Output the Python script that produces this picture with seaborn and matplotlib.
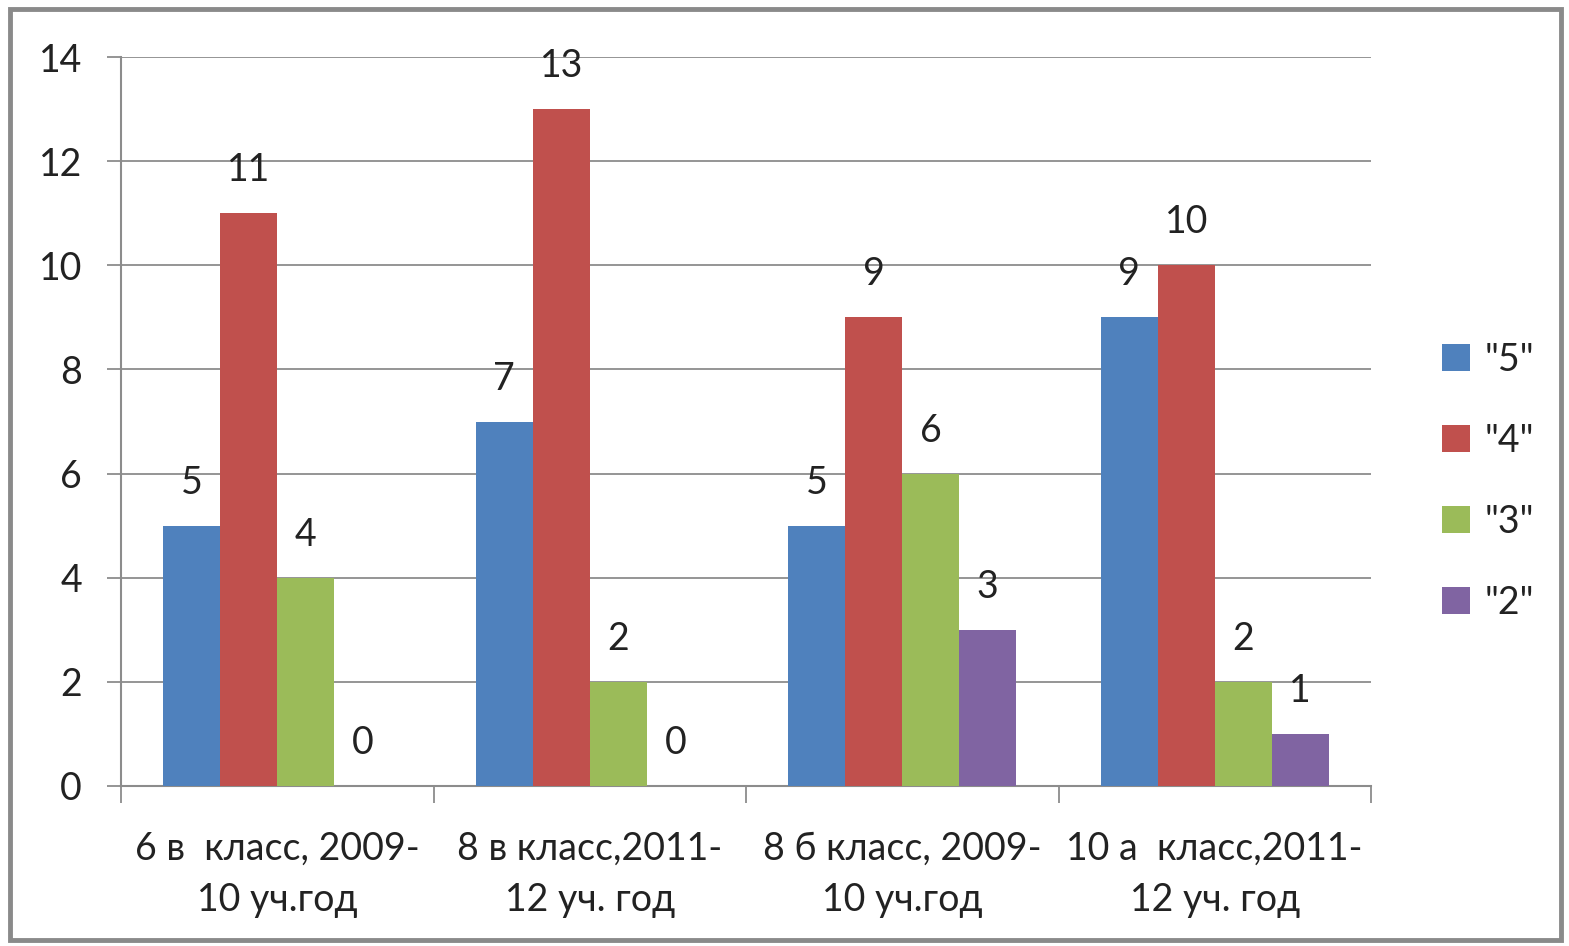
import matplotlib
matplotlib.use("Agg")
import matplotlib.pyplot as plt
import seaborn as sns
import pandas as pd
import numpy as np
from matplotlib.patches import Rectangle

categories = ["6 в  класс, 2009-\n10 уч.год", "8 в класс,2011-\n12 уч. год",
              "8 б класс, 2009-\n10 уч.год", "10 а  класс,2011-\n12 уч. год"]
series = ['"5"', '"4"', '"3"', '"2"']
values_5 = [5, 7, 5, 9]
values_4 = [11, 13, 9, 10]
values_3 = [4, 2, 6, 2]
values_2 = [0, 0, 3, 1]
colors = ["#4F81BD", "#C0504D", "#9BBB59", "#8064A2"]

rows = []
for s, vals in zip(series, [values_5, values_4, values_3, values_2]):
    for c, v in zip(categories, vals):
        rows.append({"cat": c, "series": s, "value": v})
df = pd.DataFrame(rows)

sns.set_style("white")
plt.rcParams['font.family'] = ['Lato', 'DejaVu Sans']
FS = 27

fig = plt.figure(figsize=(15.69, 9.46), dpi=100)
ax = fig.add_axes([121/1569, 1-786/946, 1250/1569, (786-57)/946])

sns.barplot(data=df, x="cat", y="value", hue="series", order=categories,
            hue_order=series, palette=colors, width=0.73, saturation=1,
            edgecolor="none", linewidth=0, ax=ax, zorder=3)

for cont in ax.containers:
    ax.bar_label(cont, labels=[f"{int(v)}" for v in cont.datavalues],
                 padding=18, fontsize=FS, color="#222222")

ax.set_ylim(0, 14)
ax.set_xlim(-0.5, 3.5)
ax.set_yticks(np.arange(0, 15, 2))
ax.yaxis.grid(True, color="#8c8c8c", linewidth=1.3, zorder=0)
ax.set_axisbelow(True)
ax.set_xlabel("")
ax.set_ylabel("")

for side in ["top", "right"]:
    ax.spines[side].set_visible(False)
for side in ["left", "bottom"]:
    ax.spines[side].set_color("#8c8c8c")
    ax.spines[side].set_linewidth(1.5)

ax.tick_params(axis="y", which="major", left=True, length=10, width=1.3,
               color="#8c8c8c", pad=18, labelsize=FS, labelcolor="#222222")
ax.tick_params(axis="x", which="major", bottom=False, length=0, pad=32,
               labelsize=FS, labelcolor="#222222")
ax.set_xticks(np.arange(-0.5, 4.0, 1.0), minor=True)
ax.tick_params(axis="x", which="minor", bottom=True, length=12, width=1.3,
               color="#8c8c8c")
for lab in ax.get_xticklabels():
    lab.set_linespacing(1.55)

leg = ax.legend(loc="center left", frameon=False, fontsize=FS,
                handlelength=0.75, handleheight=0.75,
                labelspacing=1.2, handletextpad=0.4)
leg.set_bbox_to_anchor((1408/1569, 1-481/946), transform=fig.transFigure)
for t in leg.get_texts():
    t.set_color("#222222")

fig.patches.append(Rectangle((10/1569, 1-940/946), 1551/1569, 931/946,
                             transform=fig.transFigure, fill=False,
                             edgecolor="#8a8a8a", linewidth=3.5))

fig.savefig("out.png", dpi=100)
